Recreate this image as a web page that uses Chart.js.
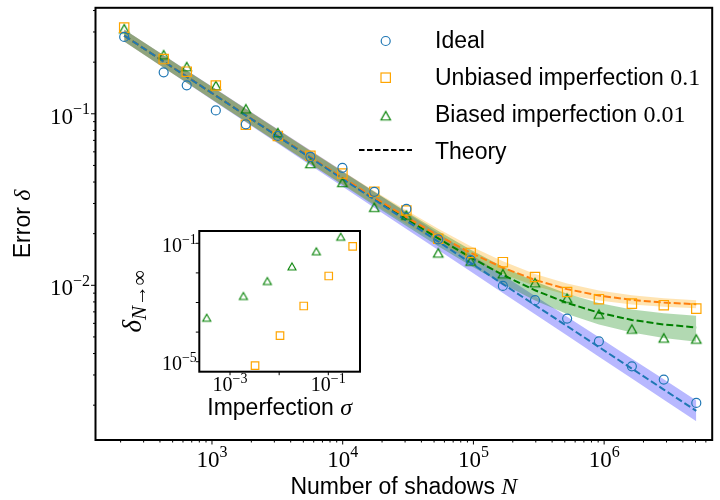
<!DOCTYPE html>
<html lang="en">
  <head>
    <meta charset="UTF-8" />
    <script src="https://cdn.jsdelivr.net/npm/chart.js@4.4.0/dist/chart.umd.min.js"></script>
    <title>Error vs number of shadows</title>
    <style>
      body {
        margin: 0;
        padding: 0;
        background: #fff;
      }

      .wrap {
        position: relative;
        width: 720px;
        height: 500px;
      }

      #main {
        position: absolute;
        left: 0;
        top: 0;
      }

      #inset {
        position: absolute;
        left: 120px;
        top: 222px;
      }
    </style>
  </head>
  <body>
    <div class="wrap">
      <canvas id="main" width="720" height="500"></canvas>
      <canvas id="inset" width="250" height="205"></canvas>
    </div>
    <script>
      // number of shadows N
      const shots = [213, 427, 641, 1070, 1815, 3190, 5660, 9950, 17450, 30700, 53800, 95300, 168000, 296000, 521000, 912000, 1630000, 2860000, 5070000]

      // measured errors
      const idealErr = [0.2805, 0.1745, 0.1466, 0.1046, 0.0868, 0.0743, 0.0561, 0.0484, 0.0351, 0.0279, 0.01854, 0.01402, 0.00991, 0.00819, 0.0064, 0.00471, 0.00337, 0.00282, 0.00206]
      const unbiasedErr = [0.318, 0.2084, 0.176, 0.1462, 0.0863, 0.0743, 0.0569, 0.0448, 0.0351, 0.0273, 0.01867, 0.01545, 0.01364, 0.01117, 0.00914, 0.0083, 0.00782, 0.00766, 0.00731]
      const biasedErr = [0.313, 0.2209, 0.1883, 0.1462, 0.1069, 0.0776, 0.0513, 0.0398, 0.0285, 0.02564, 0.01545, 0.01383, 0.01167, 0.01035, 0.00841, 0.00679, 0.00556, 0.00493, 0.00486]

      // theory curves and their bands
      const idealTheory = [0.2858, 0.2018, 0.1647, 0.1275, 0.0979, 0.0738, 0.0554, 0.0418, 0.03157, 0.0238, 0.01798, 0.01351, 0.01017, 0.00766, 0.00578, 0.004366, 0.003266, 0.002466, 0.001852]
      const idealHi = [0.3098, 0.2196, 0.1797, 0.1395, 0.1075, 0.0813, 0.0612, 0.0464, 0.03513, 0.02657, 0.02014, 0.01519, 0.01147, 0.00867, 0.00656, 0.004974, 0.003733, 0.002828, 0.002131]
      const idealLo = [0.2637, 0.1854, 0.151, 0.1165, 0.0892, 0.067, 0.0501, 0.0377, 0.02837, 0.02132, 0.01605, 0.01202, 0.00902, 0.00677, 0.00509, 0.003833, 0.002857, 0.00215, 0.001609]

      const unbiasedTheory = [0.2859, 0.2019, 0.1649, 0.1277, 0.0982, 0.0742, 0.0559, 0.04247, 0.03246, 0.02497, 0.0195, 0.01547, 0.01266, 0.01075, 0.0095, 0.00871, 0.00822, 0.00793, 0.00776]
      const unbiasedHi = [0.3099, 0.2193, 0.1791, 0.1391, 0.1069, 0.081, 0.061, 0.04646, 0.03551, 0.02738, 0.02138, 0.01692, 0.01379, 0.01165, 0.01023, 0.00931, 0.00875, 0.0084, 0.00818]
      const unbiasedLo = [0.2638, 0.1858, 0.1518, 0.1173, 0.0902, 0.068, 0.0512, 0.03882, 0.02967, 0.02277, 0.01778, 0.01414, 0.01163, 0.00992, 0.00882, 0.00815, 0.00772, 0.00749, 0.00736]

      const biasedTheory = [0.2858, 0.2018, 0.1648, 0.1276, 0.098, 0.074, 0.05566, 0.04214, 0.03202, 0.0244, 0.01877, 0.01454, 0.0115, 0.00935, 0.00789, 0.00692, 0.00628, 0.00591, 0.00568]
      const biasedHi = [0.3098, 0.2192, 0.179, 0.1389, 0.1067, 0.0808, 0.06075, 0.0461, 0.03511, 0.02682, 0.02072, 0.01613, 0.01284, 0.01052, 0.00893, 0.00789, 0.00723, 0.00686, 0.00664]
      const biasedLo = [0.2637, 0.1858, 0.1517, 0.1172, 0.09, 0.0678, 0.051, 0.03852, 0.0292, 0.02215, 0.01692, 0.01299, 0.01016, 0.00816, 0.00681, 0.0059, 0.0053, 0.00493, 0.00469]

      // inset: asymptotic error against imperfection strength
      const sigmaBiased = [3.36e-4, 1.87e-3, 5.74e-3, 1.82e-2, 5.7e-2, 0.179]
      const deltaBiased = [3.06e-4, 1.66e-3, 5.32e-3, 1.67e-2, 5.37e-2, 0.167]
      const sigmaUnbiased = [3.23e-3, 1.04e-2, 3.16e-2, 0.102, 0.313]
      const deltaUnbiased = [7.33e-6, 7.55e-5, 7.62e-4, 7.85e-3, 7.92e-2]

      const xMajor = [1e3, 1e4, 1e5, 1e6]
      const yMajor = [1e-2, 1e-1]
      const insetXMajor = [1e-3, 1e-1]
      const insetYMajor = [1e-5, 1e-1]

      const BLUE = '#1f77b4'
      const ORANGE = '#ffa500'
      const DARK_ORANGE = '#ff7f0e'
      const GREEN = '#008000'
      const SANS = '23px "Liberation Sans", Arial, sans-serif'
      const SERIF = '"Liberation Serif", "DejaVu Serif", serif'

      const pts = (xs, ys) => xs.map((x, i) => ({ x: x, y: ys[i] }))

      // matplotlib style '^' marker: centred on its bounding box
      function triangleMarker(w, h, color, lw) {
        const c = document.createElement('canvas')
        c.width = Math.ceil(w + 4)
        c.height = Math.ceil(h + 4)
        const g = c.getContext('2d')
        const cx = c.width / 2
        const cy = c.height / 2
        g.beginPath()
        g.moveTo(cx, cy - h / 2)
        g.lineTo(cx - w / 2, cy + h / 2)
        g.lineTo(cx + w / 2, cy + h / 2)
        g.closePath()
        g.strokeStyle = color
        g.lineWidth = lw
        g.stroke()
        return c
      }
      const triBig = triangleMarker(9.5, 8.5, GREEN, 1.2)
      const triSmall = triangleMarker(8, 7, GREEN, 1.1)

      // text made of several fonts (sans words + math symbols)
      function drawRich(ctx, parts, x, y, align, angle) {
        ctx.save()
        ctx.translate(x, y)
        ctx.rotate(angle || 0)
        ctx.textBaseline = 'alphabetic'
        ctx.textAlign = 'left'
        ctx.fillStyle = '#000'
        let w = 0
        parts.forEach((p) => {
          ctx.font = p.font
          w += ctx.measureText(p.text).width
        })
        let cx = align === 'center' ? -w / 2 : align === 'right' ? -w : 0
        parts.forEach((p) => {
          ctx.font = p.font
          ctx.fillText(p.text, cx, p.dy || 0)
          cx += ctx.measureText(p.text).width
        })
        ctx.restore()
      }

      // "10" with a raised exponent, for the log tick labels
      function powText(ctx, v, x, y, size, supSize, rise, align) {
        const exp = String(Math.round(Math.log10(v))).replace('-', '\u2212')
        drawRich(ctx, [
          { text: '10', font: size + 'px ' + SERIF },
          { text: exp, font: supSize + 'px ' + SERIF, dy: -rise },
        ], x, y, align)
      }

      function logTicks(ctx, scale, horizontal, edge, majorLen, minorLen, minors) {
        const lo = Math.floor(Math.log10(scale.min))
        const hi = Math.ceil(Math.log10(scale.max))
        for (let d = lo; d <= hi; d++) {
          for (let m = 1; m <= 9; m++) {
            if (m > 1 && !minors) break
            const v = m * Math.pow(10, d)
            if (v < scale.min || v > scale.max) continue
            const p = scale.getPixelForValue(v)
            const len = m === 1 ? majorLen : minorLen
            ctx.beginPath()
            if (horizontal) {
              ctx.moveTo(p, edge)
              ctx.lineTo(p, edge + len)
            } else {
              ctx.moveTo(edge, p)
              ctx.lineTo(edge - len, p)
            }
            ctx.stroke()
          }
        }
      }

      const decorMain = {
        id: 'decorMain',
        afterDraw(chart) {
          const { ctx, chartArea: a } = chart
          const { x, y } = chart.scales
          ctx.save()
          ctx.strokeStyle = '#000'
          ctx.lineWidth = 1
          logTicks(ctx, x, true, a.bottom, 4.5, 2.5, true)
          logTicks(ctx, y, false, a.left, 4.5, 2.5, true)
          ctx.lineWidth = 2
          ctx.strokeRect(a.left, a.top, a.right - a.left, a.bottom - a.top)

          // tick labels
          x.ticks.forEach((t) => {
            powText(ctx, t.value, x.getPixelForValue(t.value), a.bottom + 26.5, 23, 16, 9.5, 'center')
          })
          y.ticks.forEach((t) => {
            powText(ctx, t.value, a.left - 5.5, y.getPixelForValue(t.value) + 10, 23, 16, 9.5, 'right')
          })

          // axis titles
          drawRich(ctx, [
            { text: 'Number of shadows ', font: SANS },
            { text: 'N', font: 'italic 24px ' + SERIF },
          ], (a.left + a.right) / 2, 494, 'center')
          drawRich(ctx, [
            { text: 'Error ', font: SANS },
            { text: '\u03b4', font: 'italic 24px ' + SERIF },
          ], 29.5, (a.top + a.bottom) / 2, 'center', -Math.PI / 2)

          // legend
          const mx = 385.7
          ctx.lineWidth = 1.2
          ctx.strokeStyle = BLUE
          ctx.beginPath()
          ctx.arc(mx, 41, 4.5, 0, Math.PI * 2)
          ctx.stroke()
          ctx.strokeStyle = ORANGE
          ctx.strokeRect(mx - 4.7, 77.7 - 4.7, 9.4, 9.4)
          ctx.drawImage(triBig, mx - triBig.width / 2, 115.7 - triBig.height / 2)
          ctx.strokeStyle = '#000'
          ctx.lineWidth = 2
          ctx.setLineDash([5.5, 2.5])
          ctx.beginPath()
          ctx.moveTo(359, 150)
          ctx.lineTo(412, 150)
          ctx.stroke()
          ctx.setLineDash([])
          const tx = 435
          const num = '24px ' + SERIF
          drawRich(ctx, [{ text: 'Ideal', font: SANS }], tx, 48.3)
          drawRich(ctx, [
            { text: 'Unbiased imperfection ', font: SANS },
            { text: '0.1', font: num },
          ], tx, 85)
          drawRich(ctx, [
            { text: 'Biased imperfection ', font: SANS },
            { text: '0.01', font: num },
          ], tx, 122)
          drawRich(ctx, [{ text: 'Theory', font: SANS }], tx, 159.3)
          ctx.restore()
        },
      }

      const markerSet = (label, ys, style, radius, color) => ({
        label: label,
        data: pts(shots, ys),
        showLine: false,
        pointStyle: style,
        pointRadius: radius,
        pointBorderWidth: 1.2,
        borderColor: color,
        pointBorderColor: color,
        pointBackgroundColor: 'rgba(0,0,0,0)',
        order: 0,
      })
      const theorySet = (ys, color) => ({
        data: pts(shots, ys),
        borderColor: color,
        borderWidth: 2,
        borderDash: [7, 3],
        pointRadius: 0,
        fill: false,
        tension: 0,
        order: 1,
      })

      const datasets = [
        markerSet('Ideal', idealErr, 'circle', 4.5, BLUE),
        markerSet('Unbiased imperfection 0.1', unbiasedErr, 'rect', 6.6, ORANGE),
        markerSet('Biased imperfection 0.01', biasedErr, triBig, 5, GREEN),
        theorySet(idealTheory, BLUE),
        theorySet(unbiasedTheory, DARK_ORANGE),
        theorySet(biasedTheory, GREEN),
      ]
      // later bands are painted first, so green ends up on top
      const addBand = (lo, hi, fillColor) => {
        const base = datasets.length
        datasets.push({ data: pts(shots, lo), borderWidth: 0, pointRadius: 0, fill: false, order: 2 })
        datasets.push({
          data: pts(shots, hi),
          borderWidth: 0,
          pointRadius: 0,
          fill: { target: base },
          backgroundColor: fillColor,
          order: 2,
        })
      }
      addBand(biasedLo, biasedHi, 'rgba(0, 128, 0, 0.3)')
      addBand(unbiasedLo, unbiasedHi, 'rgba(255, 165, 0, 0.3)')
      addBand(idealLo, idealHi, 'rgba(0, 0, 255, 0.28)')

      const hiddenTicks = { display: false }

      new Chart(document.getElementById('main'), {
        type: 'line',
        data: { datasets: datasets },
        options: {
          responsive: false,
          animation: false,
          events: [],
          layout: { padding: { top: 5, right: 4, left: 0, bottom: 0 } },
          plugins: {
            legend: { display: false },
            tooltip: { enabled: false },
          },
          scales: {
            x: {
              type: 'logarithmic',
              min: 128.5,
              max: 6.71e6,
              grid: { display: false, drawTicks: false },
              border: { display: false },
              ticks: hiddenTicks,
              afterBuildTicks: (s) => {
                s.ticks = xMajor.map((v) => ({ value: v }))
              },
              afterFit: (s) => {
                s.height = 60
              },
            },
            y: {
              type: 'logarithmic',
              min: 0.001253,
              max: 0.415,
              grid: { display: false, drawTicks: false },
              border: { display: false },
              ticks: hiddenTicks,
              afterBuildTicks: (s) => {
                s.ticks = yMajor.map((v) => ({ value: v }))
              },
              afterFit: (s) => {
                s.width = 95.5
              },
            },
          },
        },
        plugins: [decorMain],
      })

      const decorInset = {
        id: 'decorInset',
        afterDraw(chart) {
          const { ctx, chartArea: a } = chart
          const { x, y } = chart.scales
          ctx.save()
          ctx.strokeStyle = '#000'
          ctx.lineWidth = 1
          logTicks(ctx, x, true, a.bottom, 3.5, 0, false)
          logTicks(ctx, y, false, a.left, 3.5, 0, false)
          ctx.lineWidth = 2
          ctx.strokeRect(a.left, a.top, a.right - a.left, a.bottom - a.top)
          x.ticks.forEach((t) => {
            powText(ctx, t.value, x.getPixelForValue(t.value), a.bottom + 19, 20, 14, 8, 'center')
          })
          y.ticks.forEach((t) => {
            powText(ctx, t.value, a.left - 2.5, y.getPixelForValue(t.value) + 8.5, 20, 14, 8, 'right')
          })
          drawRich(ctx, [
            { text: 'Imperfection ', font: SANS },
            { text: '\u03c3', font: 'italic 24px ' + SERIF },
          ], (a.left + a.right) / 2, 193, 'center')
          drawRich(ctx, [
            { text: '\u03b4', font: 'italic 27px ' + SERIF },
            { text: 'N\u2192\u221e', font: 'italic 21px ' + SERIF, dy: 5 },
          ], 21, (a.top + a.bottom) / 2, 'center', -Math.PI / 2)
          ctx.restore()
        },
      }

      new Chart(document.getElementById('inset'), {
        type: 'scatter',
        data: {
          datasets: [
            {
              label: 'Biased',
              data: pts(sigmaBiased, deltaBiased),
              pointStyle: triSmall,
              pointRadius: 4,
              borderColor: GREEN,
            },
            {
              label: 'Unbiased',
              data: pts(sigmaUnbiased, deltaUnbiased),
              pointStyle: 'rect',
              pointRadius: 5.3,
              pointBorderWidth: 1.2,
              pointBorderColor: ORANGE,
              pointBackgroundColor: 'rgba(0,0,0,0)',
            },
          ],
        },
        options: {
          responsive: false,
          animation: false,
          events: [],
          layout: { padding: { top: 9, right: 10, left: 0, bottom: 0 } },
          plugins: {
            legend: { display: false },
            tooltip: { enabled: false },
          },
          scales: {
            x: {
              type: 'logarithmic',
              min: 2.37e-4,
              max: 0.4414,
              grid: { display: false, drawTicks: false },
              border: { display: false },
              ticks: hiddenTicks,
              afterBuildTicks: (s) => {
                s.ticks = insetXMajor.map((v) => ({ value: v }))
              },
              afterFit: (s) => {
                s.height = 55.3
              },
            },
            y: {
              type: 'logarithmic',
              min: 4.59e-6,
              max: 0.2606,
              grid: { display: false, drawTicks: false },
              border: { display: false },
              ticks: hiddenTicks,
              afterBuildTicks: (s) => {
                s.ticks = insetYMajor.map((v) => ({ value: v }))
              },
              afterFit: (s) => {
                s.width = 79.3
              },
            },
          },
        },
        plugins: [decorInset],
      })
    </script>
  </body>
</html>
